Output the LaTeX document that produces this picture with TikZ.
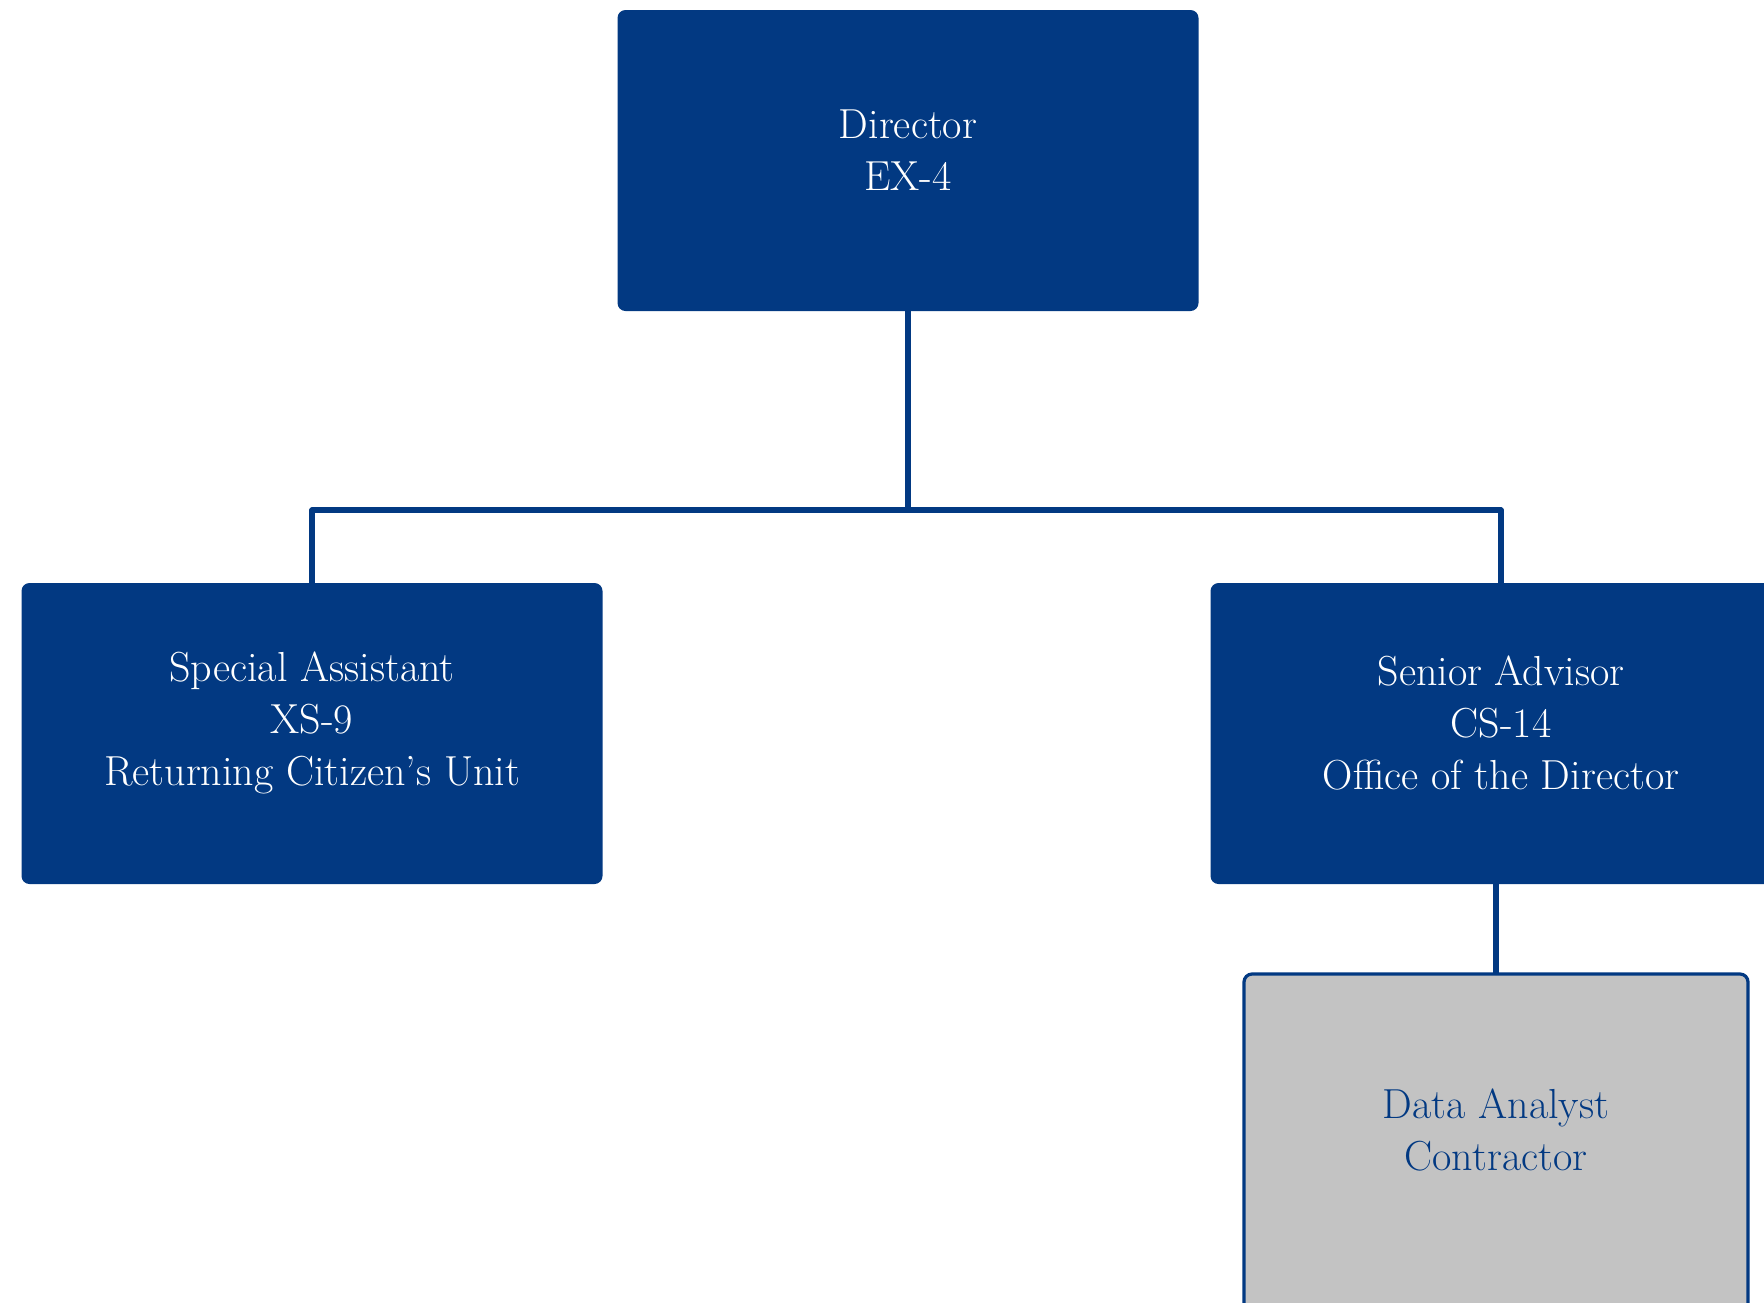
\documentclass[tikz,border=0pt]{standalone}
\usetikzlibrary{positioning}

\definecolor{navy}{RGB}{2,57,130}
\definecolor{shade}{RGB}{195,195,195}

\tikzset{post/.style={rounded corners=4pt,fill=navy,text=white,align=center,
                      minimum width=290.5pt,minimum height=150.5pt,
                      font=\fontsize{21}{26}\selectfont},
         extern/.style={post,fill=shade,draw=navy,line width=1.6pt,text=navy,
                      minimum width=252pt,minimum height=180pt},
         link/.style={navy,line width=2.6pt,line cap=round}}

\begin{document}
\begin{tikzpicture}[x=0.5pt,y=-0.5pt]
    \useasboundingbox (0,0) rectangle (1764,1302);
    \node[post,text depth=10pt] (director) at (908,160.5) {Director\\EX-4};
    \node[post,text depth=15pt] (assistant) at (312,733.5) {Special Assistant\\XS-9\\Returning Citizen's Unit};
    \node[post,text depth=11pt] (advisor) at (1501,733.5) {Senior Advisor\\CS-14\\Office of the Director};
    \node[extern,text depth=24pt] (analyst) at (1496,1154) {Data Analyst\\Contractor};
    \coordinate (bus) at (908,510);

    \draw[link] (director.south) -- (bus);
    \draw[link] (assistant.north |- bus) -- (advisor.north |- bus);
    \draw[link] (assistant.north |- bus) -- (assistant.north);
    \draw[link] (advisor.north |- bus) -- (advisor.north);
    \draw[link] (analyst.north |- advisor.south) -- (analyst.north);
\end{tikzpicture}
\end{document}
